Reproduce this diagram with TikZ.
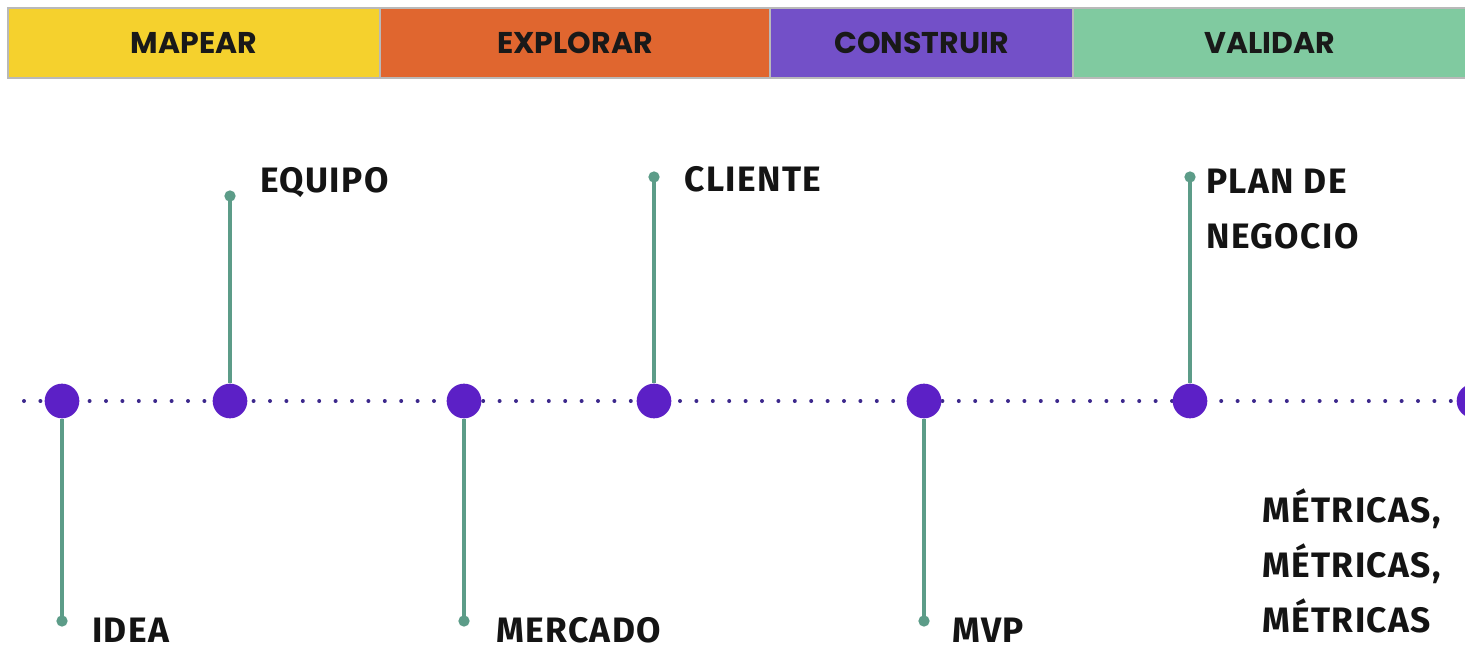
\documentclass[tikz,border=0pt]{standalone}
\usepackage{fontspec}
\setmainfont{Fira Sans}[LetterSpace=4]
\newfontfamily\barfont{Poppins}
\usepackage{tikz}
\definecolor{mapyellow}{RGB}{245,209,45}
\definecolor{exporange}{RGB}{224,102,47}
\definecolor{buildpurple}{RGB}{115,80,200}
\definecolor{checkgreen}{RGB}{128,202,160}
\definecolor{dotpurple}{RGB}{92,32,198}
\definecolor{linepurple}{RGB}{60,40,140}
\definecolor{stemgreen}{RGB}{92,156,136}

\begin{document}
\begin{tikzpicture}[x=0.75pt, y=-0.75pt,
  phasebox/.style={draw=gray!55, line width=0.8pt},
  phaselabel/.style={font=\barfont\bfseries\fontsize{22.5}{26}\selectfont, text=black!90},
  milestone/.style={circle, fill=dotpurple, minimum size=26pt, inner sep=0pt},
  stemline/.style={line width=3pt, draw=stemgreen},
  stemend/.style={circle, fill=stemgreen, minimum size=8.5pt, inner sep=0pt},
  tag/.style={font=\bfseries\fontsize{26.5}{41.25}\selectfont, anchor=base west,
    inner sep=0pt, text=black!92},
  tagblock/.style={tag, align=left}]
  \useasboundingbox (0,0) rectangle (1465,646);

  % Phase bar
  \foreach \a/\b/\c/\t [count=\i] in {8/380/mapyellow/MAPEAR,
    380/770/exporange/EXPLORAR, 770/1073/buildpurple/CONSTRUIR,
    1073/1466/checkgreen/VALIDAR} {
    \draw[phasebox, fill=\c] (\a,8) rectangle (\b,78)
      node[midway, phaselabel] (phase\i) {\t};
  }

  % Timeline
  \coordinate (tlstart) at (24,401);
  \coordinate (tlend) at (1465,401);
  \draw[linepurple, line width=3pt, line cap=round,
    dash pattern=on 0pt off 12.3pt] (tlstart) -- (tlend);

  % Milestones
  \foreach \x [count=\i] in {62, 230, 464, 654, 924, 1190, 1474} {
    \node[milestone] (m\i) at (\x,401) {};
  }

  % Stems (down for 1,3,5 -- up for 2,4,6)
  \foreach \i/\y in {1/621, 2/196, 3/621, 4/177, 5/621, 6/177} {
    \path (m\i) ++(0,\y-401) coordinate (e\i);
    \draw[stemline] (m\i) -- (e\i);
    \node[stemend] (d\i) at (e\i) {};
  }

  % Labels
  \node[tag] (idea) at (92,642) {IDEA};
  \node[tag] (equipo) at (260,192) {EQUIPO};
  \node[tag] (mercado) at (496,642) {MERCADO};
  \node[tag] (cliente) at (684,191) {CLIENTE};
  \node[tag] (mvp) at (952,642) {MVP};
  \node[tagblock] (plan) at (1206,248) {PLAN DE\\NEGOCIO};
  \node[tagblock] (metricas) at (1262,632) {MÉTRICAS,\\MÉTRICAS,\\MÉTRICAS};
\end{tikzpicture}
\end{document}
